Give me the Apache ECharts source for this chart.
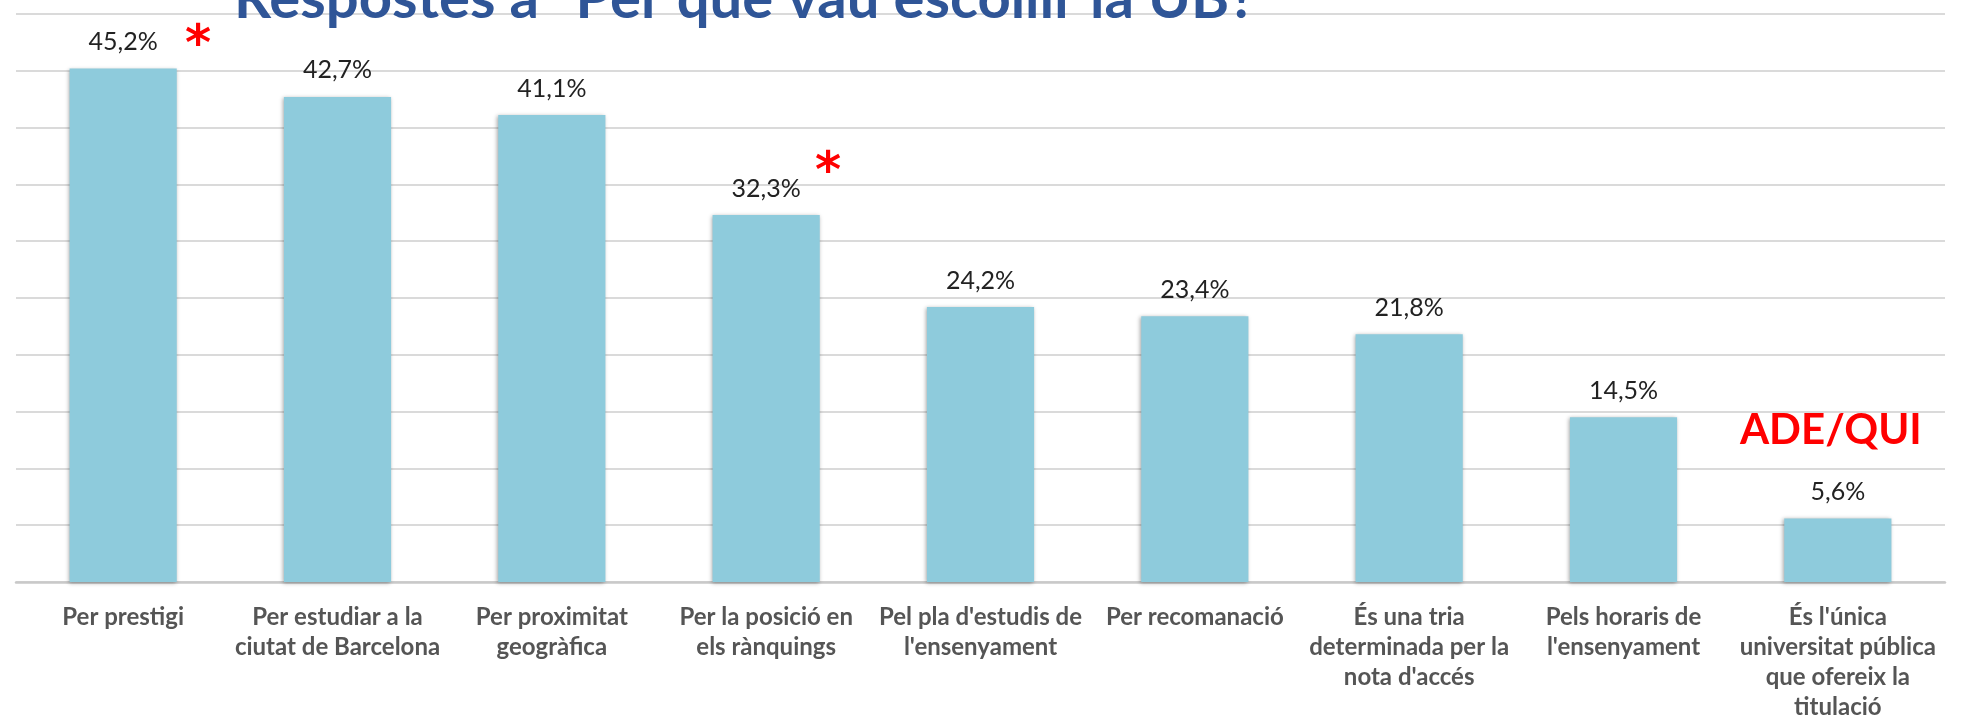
<!DOCTYPE html>
<html>
<head>
<meta charset="utf-8">
<script src="https://cdn.jsdelivr.net/npm/echarts@6/dist/echarts.min.js"></script>
<style>
  html, body { margin: 0; padding: 0; background: #fff; }
  #chart { width: 1967px; height: 724px; }
</style>
</head>
<body>
<div id="chart"></div>
<script>
var categories = [
    'Per prestigi',
    'Per estudiar a la\nciutat de Barcelona',
    'Per proximitat\ngeogràfica',
    'Per la posició en\nels rànquings',
    "Pel pla d'estudis de\nl'ensenyament",
    'Per recomanació',
    "És una tria\ndeterminada per la\nnota d'accés",
    "Pels horaris de\nl'ensenyament",
    "És l'única\nuniversitat pública\nque ofereix la\ntitulació"
];
var values = [45.2, 42.7, 41.1, 32.3, 24.2, 23.4, 21.8, 14.5, 5.6];
var starred = [0, 3];
var noteText = 'ADE/QUI';
var noteIndex = 8;
var titleText = 'Respostes a “Per què vau escollir la UB?”';

var chart = echarts.init(document.getElementById('chart'));

var option = {
    backgroundColor: '#fff',
    animation: false,
    grid: { left: 16, right: 22, top: 14, bottom: 142 },
    xAxis: {
        type: 'category',
        data: categories,
        axisTick: { show: false },
        axisLine: { lineStyle: { color: '#c9c9c9', width: 2.5 } },
        axisLabel: {
            interval: 0,
            margin: 20,
            color: '#555555',
            fontFamily: 'Lato',
            fontWeight: 'bold',
            fontSize: 24,
            lineHeight: 30
        }
    },
    yAxis: {
        type: 'value',
        min: 0,
        max: 50,
        interval: 5,
        axisLabel: { show: false },
        axisLine: { show: false },
        axisTick: { show: false },
        splitLine: { lineStyle: { color: '#dadada', width: 2 } }
    },
    series: [{
        type: 'bar',
        data: values,
        barWidth: '50%',
        itemStyle: {
            color: '#8ecbdc',
            shadowColor: 'rgba(0,0,0,0.35)',
            shadowBlur: 4,
            shadowOffsetX: -1,
            shadowOffsetY: 1
        },
        label: {
            show: true,
            position: 'top',
            distance: 14,
            color: '#222222',
            fontFamily: 'Lato',
            fontSize: 25,
            formatter: function (p) {
                return p.value.toFixed(1).replace('.', ',') + '%';
            }
        }
    }]
};
chart.setOption(option);

// annotations placed relative to their bars
function barTop(i) {
    return chart.convertToPixel({ xAxisIndex: 0, yAxisIndex: 0 }, [i, values[i]]);
}
var starOffsets = [[75, -22], [62, -41]];
var graphics = [{
    type: 'text',
    z: 100,
    style: {
        text: titleText,
        x: 234,
        y: 28,
        fill: '#2f5597',
        font: 'bold 58px Lato',
        verticalAlign: 'bottom'
    }
}];
starred.forEach(function (idx, k) {
    var p = barTop(idx);
    graphics.push({
        type: 'text',
        z: 100,
        style: {
            text: '*',
            x: p[0] + starOffsets[k][0],
            y: p[1] + starOffsets[k][1],
            fill: '#ff0000',
            font: 'bold 50px "DejaVu Sans"',
            align: 'center',
            verticalAlign: 'middle'
        }
    });
});
var q = barTop(noteIndex);
graphics.push({
    type: 'text',
    z: 100,
    style: {
        text: noteText,
        x: q[0] - 7,
        y: q[1] - 88,
        fill: '#ff0000',
        font: 'bold 42px Lato',
        align: 'center',
        verticalAlign: 'middle'
    }
});
chart.setOption({ graphic: graphics });
</script>
</body>
</html>
